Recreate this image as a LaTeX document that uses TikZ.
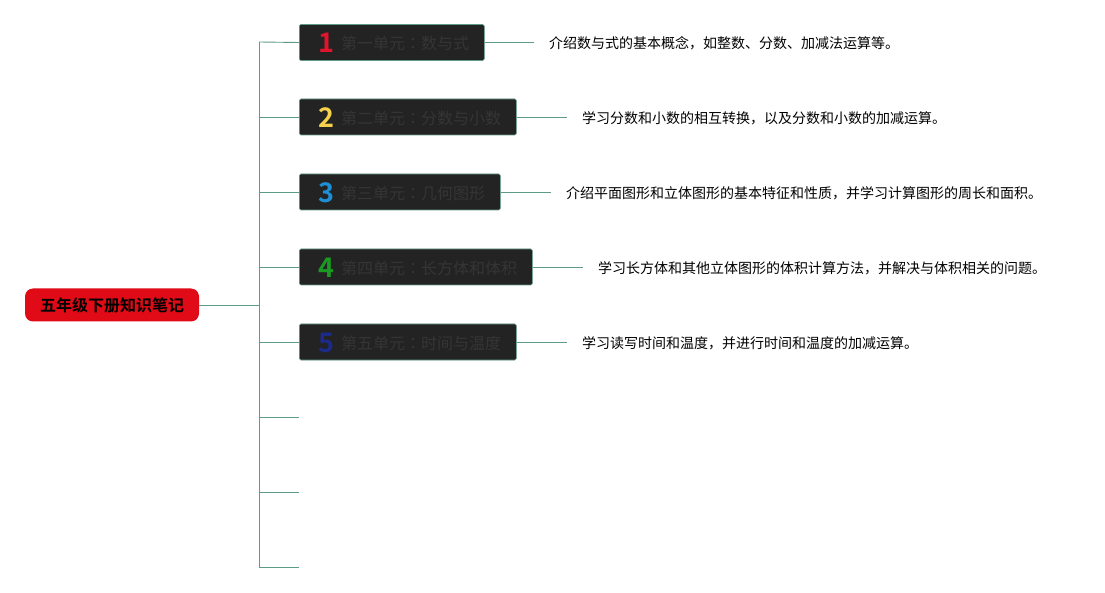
\documentclass[tikz,border=0pt]{standalone}
\usepackage{fontspec}
\setmainfont{Noto Sans CJK SC}
\newfontfamily\cjkb{Noto Sans CJK SC Bold}
\newfontfamily\cjktc{Noto Sans CJK TC}
\definecolor{linec}{HTML}{5E9A88}
\definecolor{boxf}{HTML}{232323}
\definecolor{boxt}{HTML}{353535}
\definecolor{rootred}{HTML}{E00B16}
\definecolor{n1}{HTML}{E0142C}
\definecolor{n2}{HTML}{F4D24C}
\definecolor{n3}{HTML}{1E8FD5}
\definecolor{n4}{HTML}{1B9A22}
\definecolor{n5}{HTML}{1C2A8C}
\newcommand{\cc}{{\cjktc ：}}
\tikzset{
  conn/.style={draw=linec, line width=0.9pt},
  unitbox/.style={draw=linec, fill=boxf, line width=0.6pt, rounded corners=1.5pt, anchor=west, minimum height=36pt, inner sep=0pt},
  unittext/.style={anchor=west, inner sep=0pt, text=boxt, font=\fontsize{16pt}{18pt}\selectfont},
  desc/.style={anchor=west, inner sep=0pt, text=black, font=\fontsize{14pt}{16pt}\selectfont},
  numst/.style={font=\fontsize{27pt}{27pt}\selectfont\cjkb}
}
\begin{document}
\begin{tikzpicture}[x=1pt,y=-1pt]
\useasboundingbox (0,0) rectangle (1105,593);
\node[fill=rootred, rounded corners=8pt, minimum width=174pt, minimum height=33pt, inner sep=0pt, font=\fontsize{16pt}{18pt}\selectfont\cjkb] (root) at (112,305) {五年级下册知识笔记};
\coordinate (j) at (259,305);
\coordinate (top) at (259,42);
\coordinate (bot) at (259,567);
\draw[conn] (root.east) -- (j);
\draw[conn] (top) -- (bot);
% unit boxes
\node[unitbox, minimum width=185pt] (u1) at (299,42.5) {};
\node[unitbox, minimum width=217pt] (u2) at (299,117) {};
\node[unitbox, minimum width=201pt] (u3) at (299,192) {};
\node[unitbox, minimum width=233pt] (u4) at (299,267) {};
\node[unitbox, minimum width=217pt] (u5) at (299,342) {};
\node[unittext] (l1) at (341,43) {第一单元\cc 数与式};
\node[unittext] (l2) at (341,118) {第二单元\cc 分数与小数};
\node[unittext] (l3) at (341,193) {第三单元\cc 几何图形};
\node[unittext] (l4) at (341,268) {第四单元\cc 长方体和体积};
\node[unittext] (l5) at (341,343) {第五单元\cc 时间与温度};
\node[numst, text=n1] (d1) at (326,43) {1};
\node[numst, text=n2] (d2) at (326,118) {2};
\node[numst, text=n3] (d3) at (326,193) {3};
\node[numst, text=n4] (d4) at (326,268) {4};
\node[numst, text=n5] (d5) at (326,343) {5};
% branches
\foreach \i/\y in {1/42,2/117,3/192,4/267,5/342}{
  \draw[conn] (259,\y) -- (u\i.west);
}
\coordinate (e6) at (299,417);
\coordinate (e7) at (299,492);
\coordinate (e8) at (299,567);
\draw[conn] (259,417) -- (e6);
\draw[conn] (259,492) -- (e7);
\draw[conn] (bot) -- (e8);
% descriptions
\node[desc] (t1) at (549,43) {介绍数与式的基本概念，如整数、分数、加减法运算等。};
\node[desc] (t2) at (582,118) {学习分数和小数的相互转换，以及分数和小数的加减运算。};
\node[desc] (t3) at (566,193) {介绍平面图形和立体图形的基本特征和性质，并学习计算图形的周长和面积。};
\node[desc] (t4) at (598,268) {学习长方体和其他立体图形的体积计算方法，并解决与体积相关的问题。};
\node[desc] (t5) at (582,343) {学习读写时间和温度，并进行时间和温度的加减运算。};
\draw[conn] (u1.east) -- ++(49,0) coordinate (c1);
\draw[conn] (u2.east) -- ++(50,0) coordinate (c2);
\draw[conn] (u3.east) -- ++(50,0) coordinate (c3);
\draw[conn] (u4.east) -- ++(50,0) coordinate (c4);
\draw[conn] (u5.east) -- ++(50,0) coordinate (c5);
\end{tikzpicture}
\end{document}
